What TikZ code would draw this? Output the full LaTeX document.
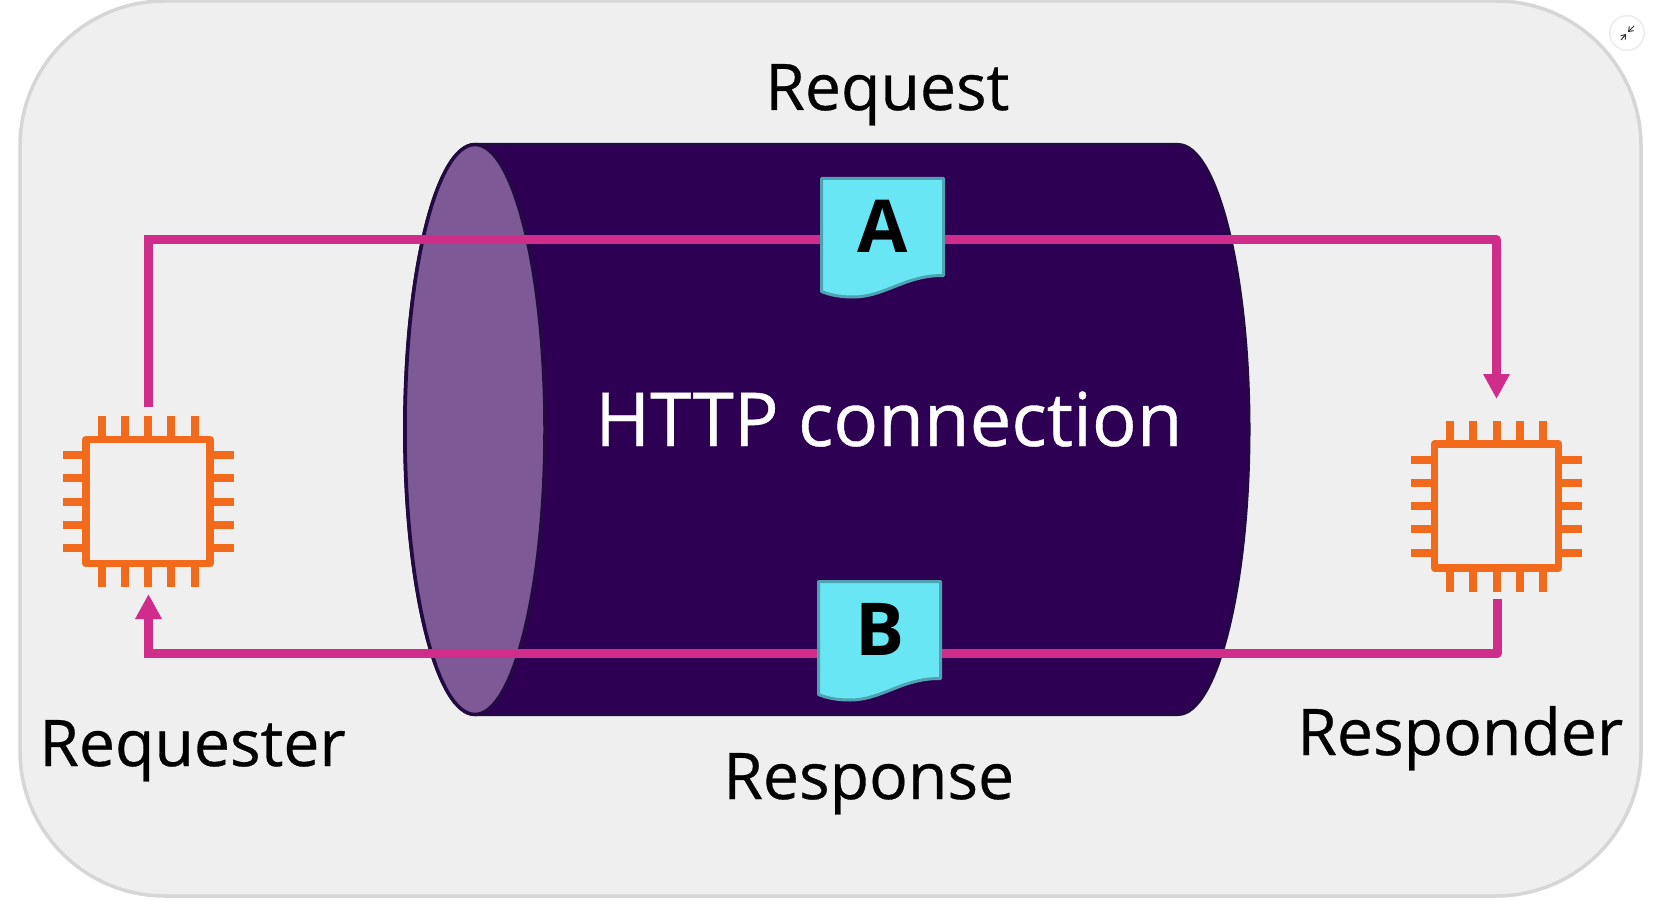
\documentclass[tikz,border=0pt]{standalone}
\usepackage{fontspec}
\setmainfont{Open Sans}
\newfontfamily\captionfont[FakeBold=0.5]{Open Sans}
\usetikzlibrary{arrows.meta,calc}
\definecolor{panelfill}{HTML}{EFEFEF}
\definecolor{panelline}{HTML}{D6D6D6}
\definecolor{tube}{HTML}{2E0054}
\definecolor{tubeline}{HTML}{230A42}
\definecolor{tubeend}{HTML}{7D5A96}
\definecolor{flow}{HTML}{D02C8A}
\definecolor{chipc}{HTML}{F26A1B}
\definecolor{docfill}{HTML}{69E6F4}
\definecolor{docline}{HTML}{4FA3B0}
\tikzset{
  x=1pt,y=-1pt,
  flowline/.style={draw=flow,line width=9pt},
  flowarrow/.style={flowline,-{Triangle[width=25pt,length=25pt,fill=flow]}},
  doclabel/.style={font=\fontsize{73}{73}\selectfont\bfseries,text=black,inner sep=0pt,anchor=base},
  caption/.style={font=\captionfont\fontsize{64.3}{65}\selectfont,text=black,inner sep=0pt,anchor=base west},
  docarea/.style={minimum width=122pt,minimum height=20pt,inner sep=0pt,outer sep=0pt},
  chiparea/.style={minimum width=171pt,minimum height=171pt,inner sep=0pt,outer sep=0pt},
  docsheet/.pic={
    \draw[fill=docfill,draw=docline,line width=3pt,line join=round]
      (-61,-60.5) -- (61,-60.5) -- (61,36.5)
      .. controls (22.5,36) and (2.5,58) .. (-29.5,58)
      .. controls (-42.5,58) and (-52.5,56) .. (-61,52.5) -- cycle;
  },
  chipicon/.pic={
    \draw[draw=chipc,line width=7.5pt,line join=round] (-62,-62) rectangle (62,62);
    \foreach \d in {-46.5,-23.25,0,23.25,46.5}{
      \draw[draw=chipc,line width=8pt] (\d,-62) -- (\d,-85.5);
      \draw[draw=chipc,line width=8pt] (\d,62) -- (\d,85.5);
      \draw[draw=chipc,line width=8pt] (-62,\d) -- (-85.5,\d);
      \draw[draw=chipc,line width=8pt] (62,\d) -- (85.5,\d);
    }
  },
}
\begin{document}
\begin{tikzpicture}
\useasboundingbox (0,0) rectangle (1653,901);
\fill[white] (0,0) rectangle (1653,901);
% panel
\draw[fill=panelfill,draw=panelline,line width=3.5pt,rounded corners=145pt] (20,1) rectangle (1641,896);
% expand icon
\fill[black!8] (1627,33) circle (18);
\fill[white] (1627,33) circle (16.5);
\draw[black!80,line width=1pt,-{Straight Barb[length=4pt,width=6pt]}] (1621,40) -- (1626,34);
\draw[black!80,line width=1pt,-{Straight Barb[length=4pt,width=6pt]}] (1634,26) -- (1628,32);
% tube
\draw[fill=tube,draw=tubeline,line width=3pt]
  (475,144.5) -- (1178,144.5)
  .. controls (1216.7,144.5) and (1249,272) .. (1249,429.5)
  .. controls (1249,587) and (1216.7,714.5) .. (1178,714.5)
  -- (475,714.5)
  .. controls (436.3,714.5) and (404.5,587) .. (404.5,429.5)
  .. controls (404.5,272) and (436.3,144.5) .. (475,144.5) -- cycle;
\draw[fill=tubeend,draw=tubeline,line width=3.5pt] (475,429.5) ellipse[x radius=70,y radius=285];
% nodes
\node[docarea] (docA) at (882.5,239.7) {};
\node[docarea] (docB) at (879.5,653.5) {};
\node[chiparea] (reqchip) at (148,501.5) {};
\node[chiparea] (respchip) at (1496.5,506) {};
\coordinate (reqout) at (148.5,407);
\coordinate (reqin) at (148.5,594);
\coordinate (respin) at (1496.5,399);
\coordinate (respout) at (1497,599);
% connectors
\draw[flowline,line join=miter] (reqout) |- (docA.west);
\draw[flowarrow,line join=round] (docA.east) -- (docA.east -| respin) -- (respin);
\draw[flowline,line join=round] (respout) |- (docB.east);
\draw[flowarrow,line join=miter] (docB.west) -- (docB.west -| reqin) -- (reqin);
% documents
\pic at ($(docA.center)+(0,-0.7)$) {docsheet};
\pic at ($(docB.center)+(0,-11.5)$) {docsheet};
\node[doclabel] (labA) at (882.5,252) {A};
\node[doclabel] (labB) at (880,655) {B};
% chips
\pic at (reqchip.center) {chipicon};
\pic at (respchip.center) {chipicon};
% text
\node[caption] (tRequest) at (765,110) {Request};
\node[caption] (tResponse) at (723,799) {Response};
\node[caption] (tRequester) at (39,766) {Requester};
\node[caption] (tResponder) at (1297,755) {Responder};
\node[caption,text=white,font=\captionfont\fontsize{74.4}{75}\selectfont] (tConn) at (595,446) {HTTP connection};
\end{tikzpicture}
\end{document}
